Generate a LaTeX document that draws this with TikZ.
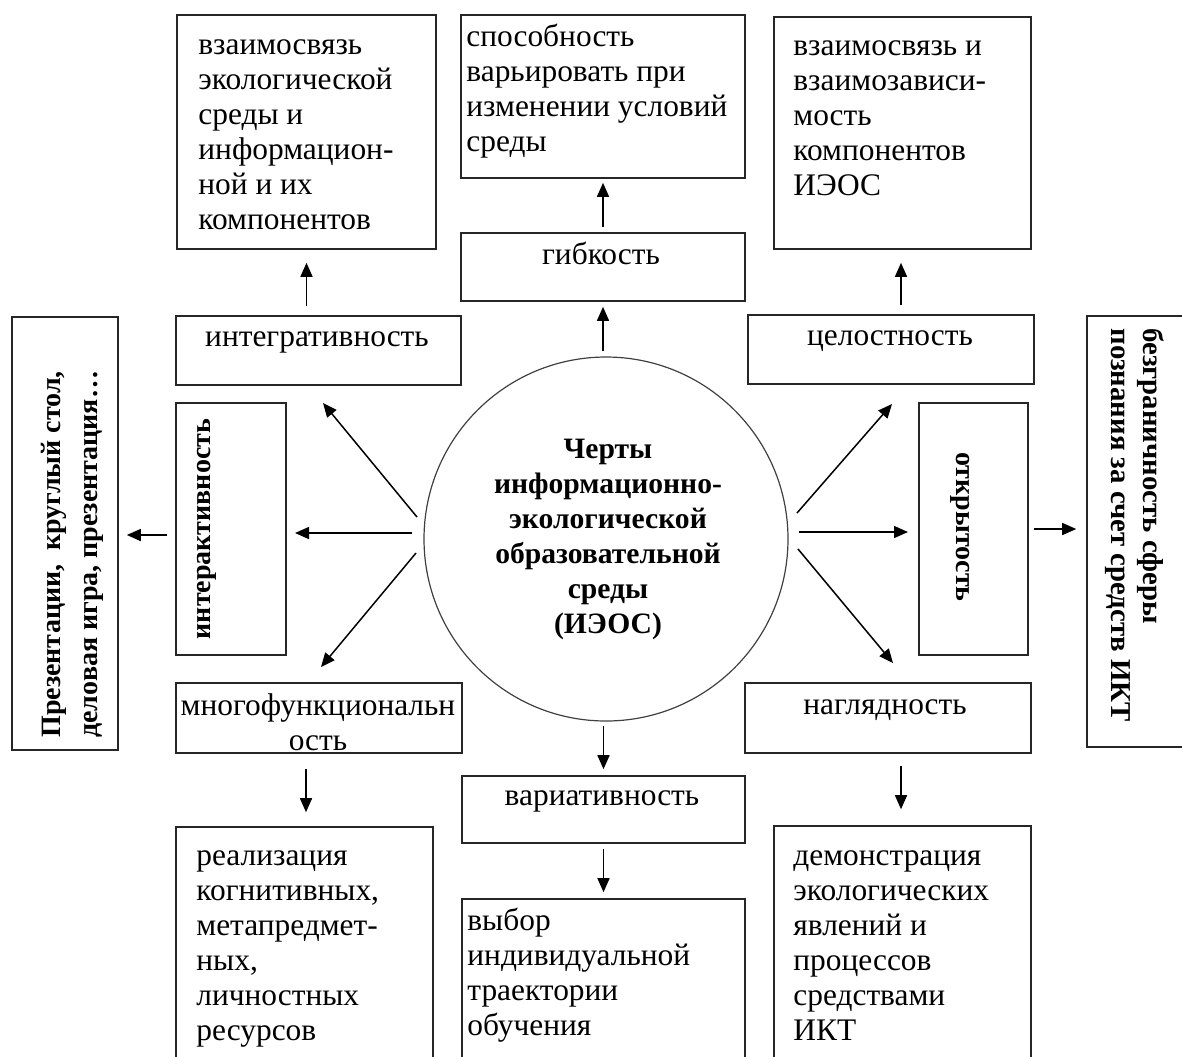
\documentclass[tikz,border=0pt]{standalone}
\usepackage{fontspec}
\setmainfont{Liberation Serif}
\usetikzlibrary{arrows.meta,fit}
\newcommand\txtL[2][17.5pt]{\vtop{\baselineskip=#1\relax\lineskiplimit=-30pt\halign{##\hfil\cr#2\crcr}}}
\newcommand\txtC[2][17.5pt]{\vtop{\baselineskip=#1\relax\lineskiplimit=-30pt\halign{\hfil##\hfil\cr#2\crcr}}}
\tikzset{
  box/.style={draw=black!85, line width=0.8pt, rectangle, inner sep=0pt},
  tx/.style={inner sep=0pt, font=\fontsize{15.7pt}{17.5pt}\selectfont},
  tb/.style={inner sep=0pt, font=\fontsize{14pt}{17pt}\selectfont\bfseries},
  arr/.style={line width=0.75pt, -{Triangle[length=7pt,width=6pt]}},
}
\begin{document}
\begin{tikzpicture}[x=0.5pt,y=-0.5pt]
\useasboundingbox (0,0) rectangle (1182,1056);
\clip (0,0) rectangle (1182,1056);
% boxes
\node[box, fit={(177,15) (436,249)}] (A) {};
\node[box, fit={(461,15) (745,178)}] (B) {};
\node[box, fit={(774,17) (1031,249)}] (Cb) {};
\node[box, fit={(461,233) (745,301)}] (flex) {};
\node[box, fit={(176,316) (461,385)}] (integ) {};
\node[box, fit={(748,315) (1034,384)}] (whole) {};
\node[box, fit={(12,317) (118,750)}] (leftbox) {};
\node[box, fit={(176,403) (286,655)}] (inter) {};
\node[box, fit={(919,403) (1028,655)}] (open) {};
\node[box, fit={(1087,316) (1200,747)}] (rightbox) {};
\node[box, fit={(176,683) (462,753)}] (multi) {};
\node[box, fit={(745,683) (1031,753)}] (vis) {};
\node[box, fit={(462,776) (745,843)}] (var) {};
\node[box, fit={(176,827) (433,1075)}] (real) {};
\node[box, fit={(462,899) (745,1075)}] (choice) {};
\node[box, fit={(774,826) (1031,1075)}] (demo) {};
\node[circle, draw=black!75, line width=0.6pt, minimum size=182pt, inner sep=0pt] (C) at (606,539) {};
% texts
\node[tx, anchor=base west] (tA) at (198,54) {\txtL{взаимосвязь\cr экологической\cr среды и\cr информацион-\cr ной и их\cr компонентов}};
\node[tx, anchor=base west] (tB) at (466,46) {\txtL{способность\cr варьировать при\cr изменении условий\cr среды}};
\node[tx, anchor=base west] (tC) at (793,55) {\txtL{взаимосвязь и\cr взаимозависи-\cr мость\cr компонентов\cr ИЭОС}};
\node[tx, anchor=base] (tflex) at (601,264) {гибкость};
\node[tx, anchor=base] (tinteg) at (317,346) {интегративность};
\node[tx, anchor=base] (twhole) at (890,345) {целостность};
\node[tx, anchor=base] (tmulti) at (318,715) {\txtC{многофункциональн\cr ость}};
\node[tx, anchor=base] (tvis) at (885,714) {наглядность};
\node[tx, anchor=base] (tvar) at (602,805) {вариативность};
\node[tx, anchor=base west] (treal) at (196,865) {\txtL{реализация\cr когнитивных,\cr метапредмет-\cr ных,\cr личностных\cr ресурсов}};
\node[tx, anchor=base west] (tchoice) at (467,930) {\txtL{выбор\cr индивидуальной\cr траектории\cr обучения}};
\node[tx, anchor=base west] (tdemo) at (793,865) {\txtL{демонстрация\cr экологических\cr явлений и\cr процессов\cr средствами\cr ИКТ}};
\node[tb, font=\fontsize{14.8pt}{17.5pt}\selectfont\bfseries, anchor=base] (tcenter) at (608,458) {\txtC{Черты\cr информационно-\cr экологической\cr образовательной\cr среды\cr (ИЭОС)}};
\node[tb, rotate=90, anchor=base west] (tleft) at (60,738) {\txtL[18.5pt]{Презентации,\ \ круглый стол,\cr деловая игра, презентация…}};
\node[tb, rotate=90, anchor=base] (tinter) at (210,529) {интерактивность};
\node[tb, rotate=-90, anchor=base] (topen) at (956,527) {открытость};
\node[tb, font=\fontsize{14.4pt}{16pt}\selectfont\bfseries, rotate=-90, anchor=base west] (tright) at (1143,328) {\txtL[16pt]{безграничность сферы\cr познания за счет средств ИКТ}};
% vertical arrows
\draw[arr, shorten <=4.5pt, shorten >=6.5pt] (integ.north -| A.south) -- (A.south);
\draw[arr, shorten <=2.5pt, shorten >=2pt] (flex.north) -- (flex.north |- B.south);
\draw[arr, shorten <=2.5pt, shorten >=2.5pt] (C.north -| flex.south) -- (flex.south);
\draw[arr, shorten <=4.5pt, shorten >=6.5pt] (whole.north -| 901,0) -- (Cb.south -| 901,0);
\draw[arr, shorten <=2pt, shorten >=3pt] (C.south -| var.north) -- (var.north);
\draw[arr, shorten <=7.5pt, shorten >=7pt] (multi.south -| 306,0) -- (real.north -| 306,0);
\draw[arr, shorten <=2.5pt, shorten >=3pt] (var.south) -- (var.south |- choice.north);
\draw[arr, shorten <=6pt, shorten >=8pt] (vis.south -| 901,0) -- (demo.north -| 901,0);
% horizontal arrows
\draw[arr, shorten <=4pt, shorten >=4pt] ([yshift=-3pt]inter.west) -- ([yshift=-3pt]inter.west -| leftbox.east);
\draw[arr, shorten <=2.5pt, shorten >=5pt] (open.east) -- (open.east -| rightbox.west);
% radial arrows
\coordinate (ulT) at (417,517); \coordinate (ulH) at (323,403);
\coordinate (lT) at (412,533);  \coordinate (lH) at (295,533);
\coordinate (llT) at (416,553); \coordinate (llH) at (321,667);
\coordinate (urT) at (797,513); \coordinate (urH) at (892,404);
\coordinate (rT) at (799,532);  \coordinate (rH) at (908,532);
\coordinate (lrT) at (798,549); \coordinate (lrH) at (893,663);
\draw[arr] (ulT) -- (ulH);
\draw[arr] (lT) -- (lH);
\draw[arr] (llT) -- (llH);
\draw[arr] (urT) -- (urH);
\draw[arr] (rT) -- (rH);
\draw[arr] (lrT) -- (lrH);
\end{tikzpicture}
\end{document}
